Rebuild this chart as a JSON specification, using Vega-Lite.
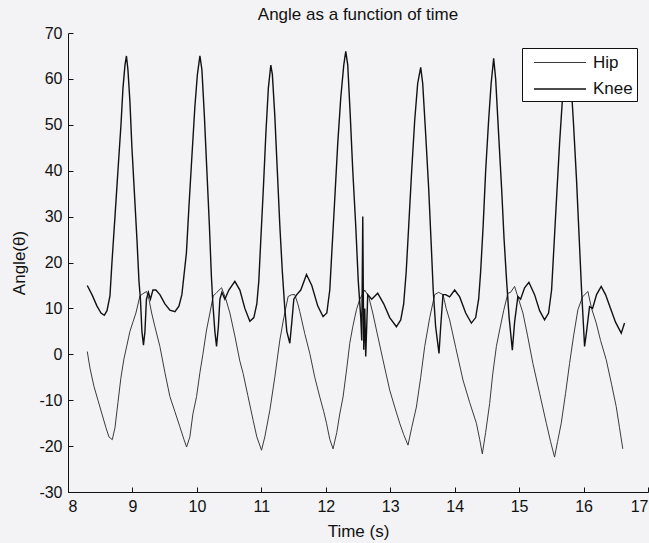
{
  "$schema": "https://vega.github.io/schema/vega-lite/v6.json",
  "width": 580,
  "height": 459,
  "autosize": {"type": "none"},
  "padding": {"left": 68, "top": 33, "right": 1, "bottom": 51},
  "background": "#f3f3f5",
  "view": {"stroke": null},
  "title": {"text": "Angle as a function of time", "font": "Liberation Sans", "fontSize": 17, "fontWeight": "normal", "color": "#111", "offset": 1, "anchor": "middle"},
  "data": {"values": [
    {"s":"Hip","t":8.299,"a":0.6},{"s":"Hip","t":8.341,"a":-3},{"s":"Hip","t":8.403,"a":-7},{"s":"Hip","t":8.465,"a":-10},{"s":"Hip","t":8.527,"a":-13},{"s":"Hip","t":8.589,"a":-16},{"s":"Hip","t":8.636,"a":-18},{"s":"Hip","t":8.687,"a":-18.6},{"s":"Hip","t":8.729,"a":-16},{"s":"Hip","t":8.775,"a":-10.5},{"s":"Hip","t":8.822,"a":-5},{"s":"Hip","t":8.868,"a":-1},{"s":"Hip","t":8.915,"a":2},{"s":"Hip","t":8.961,"a":5},
    {"s":"Hip","t":9.012,"a":7.2},{"s":"Hip","t":9.054,"a":9},{"s":"Hip","t":9.116,"a":12.7},{"s":"Hip","t":9.163,"a":13.2},{"s":"Hip","t":9.220,"a":13.7},{"s":"Hip","t":9.256,"a":12},{"s":"Hip","t":9.298,"a":9},{"s":"Hip","t":9.349,"a":6},{"s":"Hip","t":9.426,"a":1.7},{"s":"Hip","t":9.504,"a":-4},{"s":"Hip","t":9.581,"a":-9.2},{"s":"Hip","t":9.659,"a":-12.5},{"s":"Hip","t":9.736,"a":-15.8},{"s":"Hip","t":9.798,"a":-18.5},{"s":"Hip","t":9.840,"a":-20.2},{"s":"Hip","t":9.891,"a":-18},{"s":"Hip","t":9.938,"a":-13},{"s":"Hip","t":9.995,"a":-9.2},
    {"s":"Hip","t":10.047,"a":-4},{"s":"Hip","t":10.093,"a":0},{"s":"Hip","t":10.150,"a":5.3},{"s":"Hip","t":10.202,"a":9},{"s":"Hip","t":10.253,"a":12.7},{"s":"Hip","t":10.310,"a":13.5},{"s":"Hip","t":10.383,"a":14.5},{"s":"Hip","t":10.450,"a":12},{"s":"Hip","t":10.512,"a":9},{"s":"Hip","t":10.589,"a":4},{"s":"Hip","t":10.667,"a":-1.5},{"s":"Hip","t":10.718,"a":-4.2},{"s":"Hip","t":10.791,"a":-9},{"s":"Hip","t":10.873,"a":-14.4},{"s":"Hip","t":10.930,"a":-18},
    {"s":"Hip","t":11.003,"a":-20.9},{"s":"Hip","t":11.054,"a":-18},{"s":"Hip","t":11.132,"a":-12.2},{"s":"Hip","t":11.209,"a":-5},{"s":"Hip","t":11.287,"a":3.1},{"s":"Hip","t":11.349,"a":8},{"s":"Hip","t":11.416,"a":12.6},{"s":"Hip","t":11.473,"a":13},{"s":"Hip","t":11.519,"a":13},{"s":"Hip","t":11.566,"a":11},{"s":"Hip","t":11.597,"a":9.3},{"s":"Hip","t":11.674,"a":4.5},{"s":"Hip","t":11.752,"a":0.2},{"s":"Hip","t":11.829,"a":-5},{"s":"Hip","t":11.907,"a":-9.3},{"s":"Hip","t":11.969,"a":-12.5},
    {"s":"Hip","t":12.011,"a":-15},{"s":"Hip","t":12.062,"a":-18.5},{"s":"Hip","t":12.113,"a":-20.6},{"s":"Hip","t":12.171,"a":-17},{"s":"Hip","t":12.217,"a":-13},{"s":"Hip","t":12.268,"a":-9.3},{"s":"Hip","t":12.326,"a":-3},{"s":"Hip","t":12.372,"a":2.4},{"s":"Hip","t":12.419,"a":6},{"s":"Hip","t":12.476,"a":9.7},{"s":"Hip","t":12.527,"a":12},{"s":"Hip","t":12.605,"a":14},{"s":"Hip","t":12.667,"a":12.5},{"s":"Hip","t":12.729,"a":9},{"s":"Hip","t":12.786,"a":5.3},{"s":"Hip","t":12.884,"a":-1},{"s":"Hip","t":12.992,"a":-7.8},
    {"s":"Hip","t":13.070,"a":-11.5},{"s":"Hip","t":13.147,"a":-15},{"s":"Hip","t":13.209,"a":-17.5},{"s":"Hip","t":13.276,"a":-19.8},{"s":"Hip","t":13.333,"a":-16},{"s":"Hip","t":13.406,"a":-11.5},{"s":"Hip","t":13.473,"a":-5},{"s":"Hip","t":13.535,"a":1.7},{"s":"Hip","t":13.613,"a":8},{"s":"Hip","t":13.690,"a":13},{"s":"Hip","t":13.752,"a":13.5},{"s":"Hip","t":13.819,"a":13},{"s":"Hip","t":13.868,"a":10},{"s":"Hip","t":13.922,"a":7.5},
    {"s":"Hip","t":14.016,"a":1.5},{"s":"Hip","t":14.129,"a":-5.6},{"s":"Hip","t":14.233,"a":-10.5},{"s":"Hip","t":14.337,"a":-15},{"s":"Hip","t":14.388,"a":-18.5},{"s":"Hip","t":14.429,"a":-21.7},{"s":"Hip","t":14.481,"a":-17},{"s":"Hip","t":14.543,"a":-10.7},{"s":"Hip","t":14.589,"a":-4.5},{"s":"Hip","t":14.647,"a":1.7},{"s":"Hip","t":14.698,"a":5.3},{"s":"Hip","t":14.760,"a":9.5},{"s":"Hip","t":14.826,"a":13.3},{"s":"Hip","t":14.868,"a":13.5},{"s":"Hip","t":14.930,"a":14.8},{"s":"Hip","t":14.992,"a":12},
    {"s":"Hip","t":15.059,"a":9},{"s":"Hip","t":15.132,"a":4},{"s":"Hip","t":15.214,"a":-2},{"s":"Hip","t":15.318,"a":-8.5},{"s":"Hip","t":15.422,"a":-15},{"s":"Hip","t":15.488,"a":-19},{"s":"Hip","t":15.550,"a":-22.4},{"s":"Hip","t":15.597,"a":-19},{"s":"Hip","t":15.654,"a":-15},{"s":"Hip","t":15.721,"a":-8.5},{"s":"Hip","t":15.783,"a":-2},{"s":"Hip","t":15.845,"a":4},{"s":"Hip","t":15.912,"a":9.7},{"s":"Hip","t":15.984,"a":12.5},
    {"s":"Hip","t":16.067,"a":13.7},{"s":"Hip","t":16.124,"a":10},{"s":"Hip","t":16.197,"a":6.8},{"s":"Hip","t":16.264,"a":3},{"s":"Hip","t":16.352,"a":-1.2},{"s":"Hip","t":16.434,"a":-6.5},{"s":"Hip","t":16.507,"a":-11.4},{"s":"Hip","t":16.558,"a":-16},{"s":"Hip","t":16.609,"a":-20.6},

    {"s":"Knee","t":8.299,"a":15.0},{"s":"Knee","t":8.372,"a":13},{"s":"Knee","t":8.450,"a":10.5},{"s":"Knee","t":8.512,"a":9},{"s":"Knee","t":8.563,"a":8.5},{"s":"Knee","t":8.605,"a":9.5},{"s":"Knee","t":8.651,"a":12.7},{"s":"Knee","t":8.682,"a":20},{"s":"Knee","t":8.729,"a":30},{"s":"Knee","t":8.775,"a":40},{"s":"Knee","t":8.822,"a":50},{"s":"Knee","t":8.853,"a":58},{"s":"Knee","t":8.884,"a":63},{"s":"Knee","t":8.907,"a":65},{"s":"Knee","t":8.930,"a":62},{"s":"Knee","t":8.961,"a":55},{"s":"Knee","t":8.992,"a":45},
    {"s":"Knee","t":9.031,"a":35},{"s":"Knee","t":9.070,"a":25},{"s":"Knee","t":9.101,"a":16},{"s":"Knee","t":9.124,"a":12},{"s":"Knee","t":9.147,"a":5},{"s":"Knee","t":9.171,"a":2},{"s":"Knee","t":9.194,"a":5},{"s":"Knee","t":9.217,"a":12},{"s":"Knee","t":9.248,"a":13.5},{"s":"Knee","t":9.279,"a":12},{"s":"Knee","t":9.318,"a":14},{"s":"Knee","t":9.364,"a":14},{"s":"Knee","t":9.426,"a":13},{"s":"Knee","t":9.504,"a":11},{"s":"Knee","t":9.581,"a":9.6},{"s":"Knee","t":9.659,"a":9.3},{"s":"Knee","t":9.721,"a":10.5},{"s":"Knee","t":9.767,"a":13},{"s":"Knee","t":9.798,"a":17},{"s":"Knee","t":9.837,"a":22},{"s":"Knee","t":9.876,"a":32},{"s":"Knee","t":9.922,"a":43},{"s":"Knee","t":9.969,"a":54},
    {"s":"Knee","t":10.008,"a":61},{"s":"Knee","t":10.047,"a":65},{"s":"Knee","t":10.078,"a":62},{"s":"Knee","t":10.116,"a":52},{"s":"Knee","t":10.155,"a":40},{"s":"Knee","t":10.194,"a":28},{"s":"Knee","t":10.225,"a":17},{"s":"Knee","t":10.248,"a":11},{"s":"Knee","t":10.279,"a":5},{"s":"Knee","t":10.305,"a":1.7},{"s":"Knee","t":10.333,"a":6},{"s":"Knee","t":10.357,"a":12},{"s":"Knee","t":10.388,"a":13.5},{"s":"Knee","t":10.434,"a":12},{"s":"Knee","t":10.496,"a":14},{"s":"Knee","t":10.589,"a":15.9},{"s":"Knee","t":10.667,"a":14},{"s":"Knee","t":10.744,"a":10},{"s":"Knee","t":10.822,"a":7.2},{"s":"Knee","t":10.884,"a":8},{"s":"Knee","t":10.930,"a":11},{"s":"Knee","t":10.961,"a":16},{"s":"Knee","t":10.992,"a":25},
    {"s":"Knee","t":11.031,"a":36},{"s":"Knee","t":11.070,"a":48},{"s":"Knee","t":11.109,"a":58},{"s":"Knee","t":11.147,"a":63},{"s":"Knee","t":11.171,"a":61},{"s":"Knee","t":11.209,"a":52},{"s":"Knee","t":11.248,"a":40},{"s":"Knee","t":11.287,"a":28},{"s":"Knee","t":11.326,"a":18},{"s":"Knee","t":11.364,"a":10},{"s":"Knee","t":11.395,"a":5},{"s":"Knee","t":11.442,"a":2.4},{"s":"Knee","t":11.473,"a":7},{"s":"Knee","t":11.504,"a":12},{"s":"Knee","t":11.550,"a":13},{"s":"Knee","t":11.612,"a":14},{"s":"Knee","t":11.701,"a":17.4},{"s":"Knee","t":11.783,"a":15},{"s":"Knee","t":11.876,"a":10.5},{"s":"Knee","t":11.958,"a":8.2},
    {"s":"Knee","t":12.016,"a":9},{"s":"Knee","t":12.062,"a":14},{"s":"Knee","t":12.093,"a":22},{"s":"Knee","t":12.140,"a":34},{"s":"Knee","t":12.186,"a":46},{"s":"Knee","t":12.233,"a":56},{"s":"Knee","t":12.279,"a":63},{"s":"Knee","t":12.310,"a":66},{"s":"Knee","t":12.341,"a":63},{"s":"Knee","t":12.380,"a":52},{"s":"Knee","t":12.419,"a":40},{"s":"Knee","t":12.465,"a":28},{"s":"Knee","t":12.504,"a":16},{"s":"Knee","t":12.543,"a":8},{"s":"Knee","t":12.558,"a":3},{"s":"Knee","t":12.574,"a":30},{"s":"Knee","t":12.589,"a":1},{"s":"Knee","t":12.605,"a":10},{"s":"Knee","t":12.620,"a":-0.5},{"s":"Knee","t":12.651,"a":13},{"s":"Knee","t":12.713,"a":12},{"s":"Knee","t":12.806,"a":13.3},{"s":"Knee","t":12.899,"a":11},{"s":"Knee","t":12.992,"a":8},
    {"s":"Knee","t":13.096,"a":6},{"s":"Knee","t":13.163,"a":7.5},{"s":"Knee","t":13.209,"a":11},{"s":"Knee","t":13.248,"a":18},{"s":"Knee","t":13.287,"a":28},{"s":"Knee","t":13.333,"a":40},{"s":"Knee","t":13.380,"a":51},{"s":"Knee","t":13.426,"a":59},{"s":"Knee","t":13.473,"a":62.5},{"s":"Knee","t":13.504,"a":59},{"s":"Knee","t":13.550,"a":48},{"s":"Knee","t":13.597,"a":36},{"s":"Knee","t":13.636,"a":24},{"s":"Knee","t":13.667,"a":14},{"s":"Knee","t":13.705,"a":6},{"s":"Knee","t":13.757,"a":0.2},{"s":"Knee","t":13.783,"a":6},{"s":"Knee","t":13.819,"a":13},{"s":"Knee","t":13.860,"a":13},{"s":"Knee","t":13.922,"a":12.5},
    {"s":"Knee","t":14.000,"a":14},{"s":"Knee","t":14.078,"a":12.5},{"s":"Knee","t":14.171,"a":9},{"s":"Knee","t":14.259,"a":6.8},{"s":"Knee","t":14.326,"a":8},{"s":"Knee","t":14.372,"a":12},{"s":"Knee","t":14.403,"a":18},{"s":"Knee","t":14.442,"a":28},{"s":"Knee","t":14.481,"a":40},{"s":"Knee","t":14.527,"a":51},{"s":"Knee","t":14.566,"a":59},{"s":"Knee","t":14.605,"a":64.5},{"s":"Knee","t":14.636,"a":60},{"s":"Knee","t":14.682,"a":48},{"s":"Knee","t":14.729,"a":36},{"s":"Knee","t":14.767,"a":25},{"s":"Knee","t":14.806,"a":16},{"s":"Knee","t":14.845,"a":8},{"s":"Knee","t":14.895,"a":0.9},{"s":"Knee","t":14.930,"a":7},{"s":"Knee","t":14.981,"a":12.6},
    {"s":"Knee","t":15.023,"a":12},{"s":"Knee","t":15.085,"a":14.5},{"s":"Knee","t":15.152,"a":15.7},{"s":"Knee","t":15.240,"a":13},{"s":"Knee","t":15.318,"a":9.5},{"s":"Knee","t":15.395,"a":7.5},{"s":"Knee","t":15.457,"a":9},{"s":"Knee","t":15.504,"a":14},{"s":"Knee","t":15.535,"a":22},{"s":"Knee","t":15.581,"a":34},{"s":"Knee","t":15.628,"a":46},{"s":"Knee","t":15.674,"a":56},{"s":"Knee","t":15.721,"a":62},{"s":"Knee","t":15.760,"a":64},{"s":"Knee","t":15.798,"a":61},{"s":"Knee","t":15.845,"a":50},{"s":"Knee","t":15.891,"a":38},{"s":"Knee","t":15.930,"a":26},{"s":"Knee","t":15.969,"a":14},
    {"s":"Knee","t":16.016,"a":1.7},{"s":"Knee","t":16.047,"a":5},{"s":"Knee","t":16.093,"a":10.4},{"s":"Knee","t":16.140,"a":10},{"s":"Knee","t":16.202,"a":13},{"s":"Knee","t":16.274,"a":14.8},{"s":"Knee","t":16.341,"a":13},{"s":"Knee","t":16.419,"a":10},{"s":"Knee","t":16.496,"a":7},{"s":"Knee","t":16.585,"a":4.6},{"s":"Knee","t":16.636,"a":6.8}
  ]},
  "mark": {"type": "line", "interpolate": "linear"},
  "encoding": {
    "x": {"field": "t", "type": "quantitative",
      "scale": {"domain": [8, 17], "nice": false, "zero": false},
      "axis": {"title": "Time (s)", "values": [8,9,10,11,12,13,14,15,16,17], "labelExpr": "'' + datum.value", "grid": false, "domainColor": "#111", "tickColor": "#111", "tickSize": -5, "labelPadding": 11, "labelFont": "Liberation Sans", "labelFontSize": 16, "labelColor": "#111", "titleFont": "Liberation Sans", "titleFontSize": 17, "titleFontWeight": "normal", "titleColor": "#111", "titlePadding": 9}
    },
    "y": {"field": "a", "type": "quantitative",
      "scale": {"domain": [-30, 70], "nice": false, "zero": false},
      "axis": {"title": "Angle(θ)", "values": [-30,-20,-10,0,10,20,30,40,50,60,70], "labelExpr": "'' + datum.value", "grid": false, "domainColor": "#111", "tickColor": "#111", "tickSize": -5, "labelPadding": 11, "labelFont": "Liberation Sans", "labelFontSize": 16, "labelColor": "#111", "titleFont": "Liberation Sans", "titleFontSize": 17, "titleFontWeight": "normal", "titleColor": "#111", "titlePadding": 10}
    },
    "color": {"field": "s", "type": "nominal",
      "scale": {"domain": ["Hip", "Knee"], "range": ["#3a3a3a", "#111111"]},
      "legend": {"title": null, "orient": "none", "legendX": 454, "legendY": 15, "symbolType": "M-0.3,0H4.9", "symbolSize": 400, "symbolStrokeWidth": 1.3, "symbolFillColor": "transparent", "labelFont": "Liberation Sans", "labelFontSize": 17, "labelColor": "#111", "fillColor": "white", "strokeColor": "#111", "padding": 4, "rowPadding": 7, "labelOffset": 45}
    },
    "strokeWidth": {"field": "s", "type": "nominal", "scale": {"domain": ["Hip", "Knee"], "range": [1, 1.4]}, "legend": null}
  }
}
